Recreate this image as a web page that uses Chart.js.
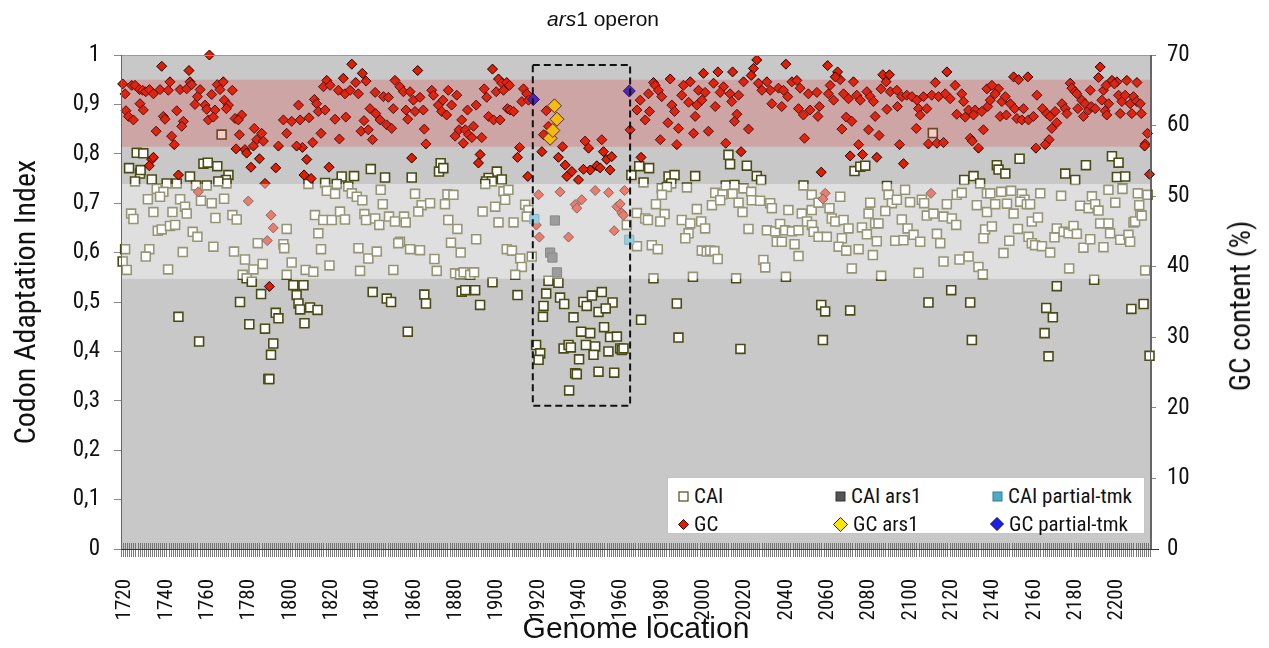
<!DOCTYPE html>
<html>
<head>
<meta charset="utf-8">
<script src="https://cdn.jsdelivr.net/npm/chart.js@4.4.1/dist/chart.umd.min.js"></script>
<style>
  html, body { margin: 0; padding: 0; background: #fff; }
  #wrap { position: relative; width: 1269px; height: 648px; }
  #title { position: absolute; left: 0; top: 7px; width: 1206px; text-align: center;
           font: 21px "Liberation Sans", Arial, sans-serif; color: #111; }
  #gcTitle { position: absolute; left: 1240px; top: 306px; transform: translate(-50%, -50%) rotate(-90deg);
             white-space: nowrap; font: 29px "Roboto Condensed", "Liberation Sans", sans-serif; color: #111; }
  #legend { position: absolute; left: 667px; top: 477px; width: 478px; height: 57px; background: #fff;
            border: 1px solid #c4c4c4; box-sizing: border-box;
            font: 21px "Roboto Condensed", "Liberation Sans", sans-serif; color: #111; }
  .item { position: absolute; height: 26px; line-height: 26px; white-space: nowrap; display: flex; align-items: center; }
  .item svg { margin-right: 5px; }
</style>
</head>
<body>
<div id="wrap">
  <canvas id="caiChart" width="1269" height="648"></canvas>
  <div id="title"><i>ars</i>1 operon</div>
  <div id="gcTitle">GC content (%)</div>
  <div id="legend">
    <div class="item" style="left:10px;top:5px"><svg width="11" height="11"><rect x="1" y="1" width="9" height="9" fill="#fff" stroke="#4b4b14" stroke-width="1.2"/></svg>CAI</div>
    <div class="item" style="left:167px;top:5px"><svg width="11" height="11"><rect x="1" y="1" width="9" height="9" fill="#555" stroke="#333" stroke-width="1"/></svg>CAI ars1</div>
    <div class="item" style="left:324px;top:5px"><svg width="11" height="11"><rect x="1" y="1" width="9" height="9" fill="#4bacc6" stroke="#2f7d93" stroke-width="1"/></svg>CAI partial-tmk</div>
    <div class="item" style="left:10px;top:33px"><svg width="11" height="11"><polygon points="5.5,0.5 10.5,5.5 5.5,10.5 0.5,5.5" fill="#e01e00" stroke="#300" stroke-width="1"/></svg>GC</div>
    <div class="item" style="left:165px;top:33px"><svg width="15" height="15"><polygon points="7.5,0.5 14.5,7.5 7.5,14.5 0.5,7.5" fill="#ffe600" stroke="#222" stroke-width="1"/></svg>GC ars1</div>
    <div class="item" style="left:322px;top:33px"><svg width="14" height="14"><polygon points="7,0.5 13.5,7 7,13.5 0.5,7" fill="#1f1fe0" stroke="#000090" stroke-width="1"/></svg>GC partial-tmk</div>
  </div>
</div>
<script>
// genome location axis
const xMin = 1718;
const xMax = 2216.5;
const xTicks = [1720, 1740, 1760, 1780, 1800, 1820, 1840, 1860, 1880, 1900, 1920, 1940, 1960,
                1980, 2000, 2020, 2040, 2060, 2080, 2100, 2120, 2140, 2160, 2180, 2200];
const caiTicks = [0, 0.1, 0.2, 0.3, 0.4, 0.5, 0.6, 0.7, 0.8, 0.9, 1];
const gcTicks = [0, 10, 20, 30, 40, 50, 60, 70];

// shaded ranges (CAI range, GC% range) and the ars1 box
const caiBand = [0.547, 0.739];
const gcBand = [57.0, 66.5];
const arsBox = { x0: 1917.3, x1: 1964.4, y0: 0.29, y1: 0.98 };

// [gene, CAI]
const caiPoints = [
  [1725.6,.802],[1728.8,.801],[1721.9,.771],[1727.2,.760],[1727.5,.767],[1724.8,.744],[1732.9,.748],[1740.1,.740],[1745,.740],[1751.4,.754],
  [1754.3,.736],[1759.5,.736],[1757.9,.780],[1760,.782],[1764.6,.775],[1770,.757],[1768.8,.747],[1769.1,.740],[1765.1,.744],[1735.3,.729],
  [1738.5,.723],[1736.9,.713],[1731,.708],[1746.6,.708],[1749,.693],[1749.8,.679],[1756.7,.705],[1761.9,.700],[1767.9,.709],[1722.9,.679],
  [1724,.668],[1733.7,.682],[1742.9,.682],[1763.7,.670],[1771.9,.676],[1774,.667],[1735.8,.644],[1737.7,.647],[1741.7,.654],[1744.2,.656],
  [1752.7,.642],[1755,.632],[1762.7,.612],[1772.7,.602],[1784.2,.619],[1778,.586],[1782.1,.566],[1786.6,.577],[1720,.607],[1718.8,.582],
  [1720.8,.565],[1731.7,.607],[1730,.592],[1747.9,.601],[1740.8,.566],[1776.9,.555],[1778.8,.548],[1781.3,.541],[1775.6,.500],[1785.8,.516],
  [1745.8,.470],[1780.1,.455],[1787.7,.446],[1792.9,.478],[1794.2,.467],[1791.7,.416],[1790.6,.393],[1755.8,.420],[1789.3,.344],[1789.8,.344],
  [1798.2,.648],[1796.6,.617],[1797,.609],[1798.2,.555],[1766.7,.839],
  [1838.9,.769],[1824.8,.754],[1830.8,.755],[1845.8,.752],[1858.7,.752],[1872.7,.781],[1871.9,.764],[1874,.771],[1808.7,.739],[1816.8,.741],
  [1822.4,.739],[1817.6,.725],[1821.6,.719],[1828,.734],[1829.7,.720],[1832.1,.713],[1834.8,.706],[1843.7,.727],[1844.7,.698],[1860.3,.719],
  [1863.5,.696],[1867.6,.700],[1861.9,.683],[1874.8,.698],[1876,.718],[1878.9,.717],[1811.9,.676],[1815.9,.666],[1820,.666],[1824,.683],
  [1826.4,.667],[1835.8,.678],[1836.6,.666],[1841,.669],[1843,.656],[1847.7,.673],[1850.6,.663],[1855,.673],[1855.8,.661],[1876.4,.666],
  [1880.8,.648],[1813.5,.639],[1814.8,.607],[1832.9,.609],[1837.7,.588],[1841.8,.602],[1853,.622],[1852.2,.619],[1857.9,.607],[1862.7,.605],
  [1869.7,.587],[1877.7,.620],[1882.4,.600],[1800.6,.580],[1818.9,.574],[1807.4,.565],[1811.1,.561],[1833.7,.563],[1849.8,.565],[1870.8,.563],
  [1879.7,.558],[1882.1,.556],[1801.4,.534],[1806.3,.534],[1803,.514],[1803.9,.497],[1804.7,.485],[1809.5,.489],[1813.1,.484],[1806.8,.457],
  [1839.8,.520],[1846.6,.507],[1848.7,.500],[1864.8,.515],[1865.6,.497],[1856.8,.440],[1882.9,.521],
  [1899.9,.764],[1895.9,.751],[1894.7,.744],[1897.5,.744],[1902.3,.748],[1894.3,.739],[1903.1,.724],[1905.5,.727],[1903.9,.707],[1893,.683],
  [1899.1,.693],[1913.6,.697],[1915.2,.686],[1914.4,.673],[1900.7,.661],[1908,.661],[1889.9,.627],[1904.7,.607],[1907.2,.604],[1911.2,.588],
  [1916.8,.592],[1912,.571],[1908.8,.555],[1883.8,.560],[1887,.555],[1888.9,.560],[1884.6,.524],[1889.4,.524],[1897.8,.540],[1891.8,.494],
  [1909.9,.514],
  [1924.9,.543],[1929.7,.539],[1923.8,.517],[1930.5,.509],[1932.5,.496],[1922.5,.492],[1922.2,.470],[1937,.469],[1941.8,.500],[1943.4,.492],
  [1945.9,.513],[1950.7,.520],[1955.9,.499],[1949.1,.480],[1952.6,.487],[1940.7,.440],[1945.1,.437],[1951.8,.449],[1954.7,.429],[1958,.430],
  [1918.9,.413],[1920.9,.396],[1920.1,.383],[1932.2,.406],[1934.6,.413],[1935.7,.408],[1939.7,.384],[1943,.413],[1947.5,.410],[1946.7,.393],
  [1953.9,.400],[1959.6,.406],[1960.4,.403],[1961.2,.406],[1937.8,.356],[1938.6,.354],[1949.1,.359],[1956.7,.357],[1934.9,.321],[1962.8,.656],
  [1965,.757],
  [2012,.798],[2012.8,.779],[2020.9,.776],[1968.8,.775],[1973.6,.771],[1983,.754],[1985.9,.757],[1995.9,.755],[2025.7,.755],[2027.8,.747],
  [1970.9,.742],[1984.3,.740],[1991.9,.732],[1979.7,.730],[1982.2,.733],[2010.7,.736],[2014.9,.737],[2005.6,.721],[2009.1,.718],[2014,.719],
  [2019.3,.730],[2023,.723],[2048.3,.736],[2052.3,.717],[1979.8,.717],[1976.9,.698],[1981.1,.678],[2004,.696],[2008,.706],[2016.9,.701],
  [2023.3,.706],[2027.3,.705],[2032.2,.700],[2033,.690],[1996.7,.688],[2018.8,.682],[2041,.686],[2047.5,.679],[2052.3,.686],[1967.7,.680],
  [1971.7,.669],[1973,.666],[1979,.663],[1989.4,.666],[1993.5,.659],[1998.8,.663],[2000.7,.649],[1992.7,.639],[1991.1,.629],[2021.7,.648],
  [2030.6,.645],[2034.6,.643],[2037,.658],[2039.4,.645],[2042.7,.643],[2045.9,.645],[2050,.663],[2035.4,.622],[2037.8,.622],[2044,.617],
  [2045.9,.593],[1967.7,.613],[1974.9,.615],[1977.8,.607],[1999.1,.604],[2001.5,.602],[2003.1,.604],[2005.2,.603],[2006.8,.587],[2028.9,.585],
  [2029.8,.570],[1975.7,.548],[1994.8,.551],[2015.7,.548],[2039.8,.551],[1987,.497],[1969.7,.464],[1987.8,.428],[2017.8,.405],
  [2073,.765],[2075.8,.774],[2078.2,.776],[2126.1,.747],[2130.6,.755],[2133.8,.740],[2088.7,.735],[2055.6,.701],[2066.1,.713],[2089.5,.717],
  [2091.1,.700],[2093.5,.707],[2097.5,.727],[2099.9,.702],[2105.6,.707],[2106.7,.700],[2122.5,.717],[2124.9,.721],[2137.1,.720],[2060.9,.690],
  [2080.6,.701],[2087.9,.684],[2117.7,.698],[2132.2,.696],[2137.1,.682],[2079.8,.679],[2095.9,.667],[2108,.675],[2111.2,.679],[2116.1,.673],
  [2120.1,.669],[2122.2,.656],[2062,.669],[2063.7,.663],[2067.7,.666],[2083,.659],[2084.6,.659],[2052.4,.656],[2053.2,.642],[2055.6,.632],
  [2059.6,.632],[2066.9,.629],[2070.1,.649],[2076.6,.651],[2079,.637],[2083.8,.623],[2092.7,.624],[2096.7,.625],[2098.7,.649],[2101.6,.636],
  [2104.8,.622],[2112.9,.638],[2114.5,.619],[2136.2,.647],[2135.4,.629],[2065.3,.612],[2069,.604],[2075,.607],[2081.9,.595],[2116.1,.582],
  [2123.8,.586],[2128.2,.592],[2133,.571],[2135.1,.556],[2071.7,.568],[2085.9,.553],[2104,.559],[2119.8,.524],[2108.8,.499],[2129,.499],
  [2056.9,.494],[2058.8,.481],[2070.9,.483],[2057.7,.423],[2129.8,.423],[2110.9,.842],
  [2152.9,.790],[2141.9,.777],[2142.7,.768],[2146,.760],[2185,.777],[2197.6,.795],[2200.8,.782],[2200,.753],[2204,.754],[2175,.760],
  [2179.8,.747],[2138.7,.720],[2144,.723],[2148.8,.725],[2154,.719],[2155.3,.707],[2162.9,.720],[2173,.715],[2187.9,.714],[2195.9,.727],
  [2202.7,.729],[2210.1,.720],[2214.8,.717],[2141.1,.698],[2146.8,.699],[2150,.679],[2153.2,.703],[2156.4,.698],[2158,.698],[2182.2,.695],
  [2186.3,.690],[2189.5,.698],[2191.1,.685],[2199.2,.701],[2210.8,.696],[2211.3,.676],[2139.5,.653],[2152.1,.648],[2158.8,.663],[2161.8,.671],
  [2157.2,.632],[2158.8,.619],[2160.4,.615],[2163.7,.613],[2167.7,.600],[2147.9,.624],[2145.1,.599],[2169.8,.631],[2170.9,.649],[2174.2,.642],
  [2176.6,.639],[2179,.654],[2180.6,.638],[2183.8,.610],[2187.1,.627],[2191.9,.659],[2195.9,.659],[2196.7,.639],[2193.5,.611],[2201.6,.626],
  [2205.6,.636],[2206.4,.622],[2208,.661],[2208.8,.663],[2212,.675],[2176.9,.568],[2213.7,.564],[2170.9,.532],[2189,.545],[2165.8,.488],
  [2169,.469],[2165,.437],[2166.9,.390],[2207,.486],[2212.9,.496],[2215.8,.391]
];

// [gene, GC %]
const gcPoints = [
  [1760.8,70.0],[1737.7,68.4],[1750.9,67.8],[1718.8,65.9],[1720,64.5],[1723.2,65.7],[1724.8,65.7],[1727,65.1],[1728.5,65.0],[1730,64.8],
  [1731.8,65.1],[1733.7,64.5],[1736.9,65.1],[1740.9,65.0],[1741.7,66.2],[1746.6,65.1],[1749.8,65.2],[1751.4,66.2],[1752.2,65.8],[1756.3,65.1],
  [1755,64.1],[1761.9,64.4],[1764.6,65.8],[1767.5,66.2],[1765.9,65.1],[1771.9,65.0],[1768,63.6],[1770,62.9],[1769,62.4],[1753.8,63.0],
  [1758.7,62.9],[1759.5,62.3],[1763.5,62.2],[1720.4,62.1],[1721.6,61.3],[1724,60.8],[1727.2,63.1],[1728.8,62.2],[1738.5,61.3],[1739.3,60.9],
  [1745,62.1],[1748.2,60.6],[1747.4,59.9],[1760.3,60.8],[1762.7,61.2],[1773.2,61.0],[1776.4,61.5],[1774.8,60.8],[1735,59.2],[1742.5,58.5],
  [1743.8,57.3],[1775.3,58.7],[1782.5,59.6],[1786.1,58.9],[1783.7,58.0],[1786.9,57.8],[1782.1,57.1],[1773.7,56.7],[1778,56.6],[1778.8,56.1],
  [1780.9,54.1],[1785,55.3],[1792.9,54.0],[1787.7,51.8],[1794.2,57.1],[1796.6,60.8],[1798.2,58.9],[1732.9,55.2],[1733.7,55.5],[1731.7,54.3],
  [1745.8,53.0],[1755.4,50.6],[1779.6,49.3],[1790.6,47.3],[1791.7,45.5],[1788.8,43.7],[1789.8,37.2],
  [1829.7,68.7],[1834.8,67.4],[1861.6,67.8],[1817.6,66.4],[1816,65.5],[1819.2,65.7],[1825.6,66.7],[1823.2,65.0],[1826.4,64.5],[1828.9,65.0],
  [1831.6,66.1],[1832.9,64.5],[1836.6,66.3],[1841,64.7],[1845,64.1],[1847.4,64.0],[1849.8,62.4],[1850.6,66.4],[1853,65.5],[1854.7,64.8],
  [1857.9,64.8],[1859.5,63.6],[1862.7,64.0],[1868.4,65.0],[1869.2,64.3],[1876.4,65.0],[1880.5,64.3],[1871.6,62.9],[1873.2,62.0],[1875.6,61.5],
  [1878,62.9],[1873.8,63.6],[1803.9,62.9],[1811.6,63.7],[1812.7,63.1],[1813.5,62.0],[1816.8,62.2],[1821.6,60.9],[1826.8,61.2],[1835.6,60.7],
  [1834.2,59.2],[1837.7,59.4],[1839.7,58.0],[1838.5,62.4],[1841.3,61.7],[1843.4,60.8],[1846.6,60.1],[1849,59.6],[1855.9,62.2],[1860.3,62.0],
  [1864.3,62.2],[1856.8,60.9],[1864.8,59.5],[1865.6,57.4],[1882.9,60.8],[1881.6,59.4],[1879.7,58.5],[1883.7,57.5],[1809,61.1],[1804.7,60.8],
  [1800.6,60.6],[1814.8,58.9],[1810.8,57.6],[1805.8,56.9],[1803,57.1],[1823.7,58.1],[1807.9,55.2],[1818.7,54.1],[1806.6,53.0],[1810,52.5],
  [1858.7,55.4],
  [1897.8,68.0],[1900.7,66.6],[1902.3,66.0],[1904.7,66.1],[1906,65.7],[1893.8,65.2],[1899.6,64.8],[1895,64.0],[1903.1,65.0],[1912.8,65.2],
  [1914.4,64.5],[1912,63.4],[1915.2,63.6],[1889.9,62.9],[1885.7,62.2],[1905,62.4],[1906.3,62.2],[1908,62.0],[1895.9,61.3],[1898.3,60.8],
  [1901.5,60.8],[1888.6,59.9],[1884.6,59.4],[1886.2,58.7],[1887.8,58.3],[1892.6,58.3],[1910.9,56.9],[1909.9,55.5],[1891.8,55.9],[1891,54.7],
  [1914.9,52.8],
  [1923.8,62.1],[1924.9,59.9],[1922.5,58.7],[1921.7,56.3],[1931.7,57.0],[1929.7,55.5],[1933,54.4],[1933.8,52.8],[1936.2,53.5],[1939.4,52.3],
  [1942.6,57.8],[1944.3,56.8],[1945.1,53.7],[1941.8,53.8],[1950.7,58.0],[1951.5,56.3],[1953.1,55.2],[1955.5,55.6],[1948.3,54.3],[1949.9,54.0],
  [1954.7,53.7],[1964.4,59.4],[1920.1,50.2],[1930.5,50.6],[1937.8,48.8],[1941,49.5],[1938.6,48.3],[1947.5,50.8],[1954,50.5],[1961.7,50.8],
  [1958,48.5],[1959.6,48.9],[1960.4,47.6],[1961.2,47.3],[1919,45.9],[1920.5,44.2],[1934.6,44.2],[1956.7,45.1],
  [2025.7,69.3],[2024.1,68.1],[2023,67.1],[2039.8,68.7],[1999.9,67.4],[2006.9,67.6],[2014,67.6],[1983.8,66.6],[1975.7,66.1],[1976.5,65.7],
  [1978.1,65.0],[1973.3,64.5],[1969.3,63.6],[1967.7,62.2],[1990.2,65.7],[1993.5,66.2],[1997.5,65.0],[2000.7,64.7],[2004.8,66.0],[2009.6,65.5],
  [2012.8,64.5],[2016.9,64.3],[2019.3,66.2],[2026.5,66.0],[2030.6,66.2],[2032.2,65.0],[2036.2,65.3],[2038.6,65.0],[2042.7,66.2],[2045.1,66.4],
  [2046.7,65.3],[2050.7,64.5],[1979.7,64.1],[1989.4,64.3],[1999.1,63.6],[2008,64.7],[2013.6,63.4],[2028.2,65.0],[2040.7,64.1],[1984.6,62.9],
  [1992.7,63.3],[1996.7,62.9],[2005.6,62.7],[2033,63.1],[2037.8,62.7],[2045.9,62.4],[2048.3,61.5],[2051.5,62.2],[1973.8,62.0],[1971.7,60.8],
  [1985.9,62.0],[1995.9,61.3],[2016.1,61.6],[1982.7,60.4],[1987.8,59.6],[1995.1,58.9],[2002.3,59.2],[2014.9,60.6],[2021.7,59.5],[1979,58.0],
  [1987,57.3],[2010.7,57.5],[2048.8,58.2],[1969.7,55.5],[2018.1,56.3],
  [2060,68.5],[2064.8,67.6],[2066.1,66.5],[2063.7,66.9],[2086.7,67.2],[2089.9,67.2],[2088.3,66.2],[2117.7,67.6],[2072.5,66.2],[2061.2,65.7],
  [2060.4,64.5],[2054.8,64.7],[2062.9,63.6],[2067.7,64.5],[2070.1,63.8],[2074.1,64.3],[2075.8,63.6],[2079,64.8],[2080.6,64.1],[2082.2,63.4],
  [2085.8,65.2],[2090.3,64.8],[2093.5,65.0],[2095.9,64.1],[2098.3,64.3],[2100.8,64.1],[2103.2,63.6],[2106.4,64.1],[2110.4,64.3],[2112.1,66.1],
  [2113.7,64.1],[2116.9,64.5],[2119.3,63.8],[2121.7,65.7],[2124.9,64.5],[2125.8,63.4],[2128.2,62.2],[2131.4,62.2],[2134.6,62.0],[2137.1,65.2],
  [2137.5,62.7],[2056,62.7],[2055.3,61.3],[2088.7,62.3],[2093.8,62.7],[2104,62.4],[2108,62.4],[2104.8,61.5],[2122.5,61.6],[2126.6,61.2],
  [2130.6,61.5],[2069,61.2],[2071.7,60.6],[2083,61.3],[2066.9,59.5],[2079.8,59.4],[2084.9,58.6],[2102.9,59.6],[2108.8,57.4],[2112.9,57.5],
  [2116.1,57.6],[2075,57.3],[2094.8,57.3],[2129,58.2],[2130,57.8],[2135.4,59.4],[2133,56.8],[2070.9,55.7],[2076.9,55.9],[2083.8,55.5],
  [2096.7,54.6],[2056.9,53.4],[2058.8,50.4],[2057.7,49.6],[2110,50.4],
  [2191.9,68.3],[2150,66.9],[2152.4,66.5],[2156.9,66.9],[2191.1,66.8],[2197.6,66.4],[2200,66.2],[2204.8,66.4],[2209.7,66.1],[2139.5,65.7],
  [2142.7,65.2],[2141.1,64.5],[2138.7,63.6],[2144.3,63.4],[2146,64.1],[2148.4,63.1],[2150.5,62.4],[2143.5,61.3],[2146.5,61.5],[2154.8,62.4],
  [2151.6,61.0],[2154,60.8],[2157.2,60.8],[2159.6,61.3],[2161.3,64.3],[2164,62.4],[2166.1,61.7],[2167.7,61.3],[2170.9,60.4],[2168.5,59.6],
  [2167.2,58.0],[2165.3,57.3],[2160.8,56.8],[2170.1,62.0],[2173.4,63.1],[2175,62.4],[2175.8,61.7],[2177.4,66.0],[2178.2,65.3],[2179.8,64.8],
  [2180.6,64.5],[2183,63.6],[2184.6,63.1],[2186.3,62.2],[2187.6,62.7],[2189.5,62.4],[2192.7,63.6],[2194.3,62.1],[2196,63.1],[2200.8,64.3],
  [2202.4,63.4],[2204,64.3],[2206.4,63.1],[2208,64.1],[2209.6,63.4],[2211.3,63.1],[2207.2,61.7],[2211.8,61.7],[2187.1,65.0],[2193.5,65.0],
  [2194.8,65.7],[2198.8,65.9],[2181.1,62.4],[2183.8,61.3],[2195.1,61.5],[2201.6,61.7],[2214.8,58.9],[2213.7,57.4],[2213.4,57.1],[2215.8,53.1]
];

const caiArs1 = [[1925.7,.600],[1926.8,.590],[1928,.665],[1929,.560]];
const gcArs1 = [[1925.7,58.2],[1927,59.3],[1927.8,62.8],[1929,60.9]];
const caiTmk = [[1918,.668],[1964,.626]];
const gcTmk = [[1917.6,63.7],[1964,64.9]];

const narrow = '"Roboto Condensed", "Liberation Sans", sans-serif';
const toXY = pts => pts.map(p => ({ x: p[0], y: p[1] }));

const overlayPlugin = {
  id: 'overlay',
  beforeDatasetsDraw(chart) {
    const { ctx, chartArea: a } = chart;
    ctx.save();
    ctx.fillStyle = '#c8c8c8';
    ctx.fillRect(a.left, a.top, a.width, a.height);
    ctx.restore();
  },
  afterDatasetsDraw(chart) {
    const { ctx, chartArea: a, scales } = chart;
    ctx.save();
    // light CAI band and red GC band lie over the points
    const c1 = scales.y.getPixelForValue(caiBand[1]);
    const c0 = scales.y.getPixelForValue(caiBand[0]);
    ctx.fillStyle = 'rgba(255,255,255,0.42)';
    ctx.fillRect(a.left, c1, a.width, c0 - c1);
    const g1 = scales.y2.getPixelForValue(gcBand[1]);
    const g0 = scales.y2.getPixelForValue(gcBand[0]);
    ctx.fillStyle = 'rgba(220,60,60,0.25)';
    ctx.fillRect(a.left, g1, a.width, g0 - g1);

    // frame
    ctx.lineWidth = 1;
    ctx.strokeStyle = '#9a9a9a';
    ctx.beginPath();
    ctx.moveTo(a.left, a.top + 0.5); ctx.lineTo(a.right, a.top + 0.5);
    ctx.stroke();
    ctx.strokeStyle = '#666';
    ctx.beginPath();
    ctx.moveTo(a.left + 0.5, a.top); ctx.lineTo(a.left + 0.5, a.bottom);
    ctx.moveTo(a.right - 0.5, a.top); ctx.lineTo(a.right - 0.5, a.bottom);
    ctx.stroke();

    // dashed box round the ars1 operon
    const bx0 = scales.x.getPixelForValue(arsBox.x0);
    const bx1 = scales.x.getPixelForValue(arsBox.x1);
    const by0 = scales.y.getPixelForValue(arsBox.y0);
    const by1 = scales.y.getPixelForValue(arsBox.y1);
    ctx.setLineDash([7, 4]);
    ctx.lineWidth = 2;
    ctx.strokeStyle = '#111';
    ctx.strokeRect(bx0, by1, bx1 - bx0, by0 - by1);
    ctx.restore();
  },
  afterDraw(chart) {
    // one minor tick per gene along the bottom axis
    const { ctx, chartArea: a, scales } = chart;
    ctx.save();
    ctx.strokeStyle = 'rgba(100,100,100,0.85)';
    ctx.lineWidth = 1;
    ctx.beginPath();
    for (let g = Math.ceil(xMin); g <= xMax; g++) {
      const px = Math.round(scales.x.getPixelForValue(g)) + 0.5;
      ctx.moveTo(px, a.bottom - 6);
      ctx.lineTo(px, a.bottom + 8);
    }
    ctx.stroke();
    ctx.strokeStyle = '#333';
    ctx.beginPath();
    ctx.moveTo(a.left, a.bottom + 0.5); ctx.lineTo(a.right + 8, a.bottom + 0.5);
    ctx.stroke();
    ctx.restore();
  }
};

const ctx = document.getElementById('caiChart').getContext('2d');
const caiChart = new Chart(ctx, {
  type: 'scatter',
  data: {
    datasets: [
      { label: 'GC partial-tmk', data: toXY(gcTmk), yAxisID: 'y2', order: 0, pointStyle: 'rectRot', pointRadius: 6,
        backgroundColor: '#1f1fe0', borderColor: '#000090', borderWidth: 1 },
      { label: 'GC ars1', data: toXY(gcArs1), yAxisID: 'y2', order: 0, pointStyle: 'rectRot', pointRadius: 7,
        backgroundColor: '#ffe600', borderColor: '#222', borderWidth: 1 },
      { label: 'CAI partial-tmk', data: toXY(caiTmk), yAxisID: 'y', order: 0, pointStyle: 'rect', pointRadius: 6.5,
        backgroundColor: '#4bacc6', borderColor: '#2f7d93', borderWidth: 1 },
      { label: 'CAI ars1', data: toXY(caiArs1), yAxisID: 'y', order: 0, pointStyle: 'rect', pointRadius: 6.5,
        backgroundColor: '#555', borderColor: '#333', borderWidth: 1 },
      { label: 'GC', data: toXY(gcPoints), yAxisID: 'y2', order: 1, pointStyle: 'rectRot', pointRadius: 5,
        backgroundColor: '#e01e00', borderColor: '#1a0000', borderWidth: 1 },
      { label: 'CAI', data: toXY(caiPoints), yAxisID: 'y', order: 2, pointStyle: 'rect', pointRadius: 6.3,
        backgroundColor: '#ffffff', borderColor: '#4b4b14', borderWidth: 1.6 }
    ]
  },
  options: {
    responsive: false,
    animation: false,
    clip: 8,
    layout: { padding: { top: 55, right: 0, bottom: 0, left: 0 } },
    plugins: { legend: { display: false }, tooltip: { enabled: false } },
    scales: {
      x: {
        type: 'linear', position: 'bottom', min: xMin, max: xMax,
        afterBuildTicks: s => { s.ticks = xTicks.map(v => ({ value: v })); },
        afterFit: s => { s.height = 99; },
        grid: { display: false },
        border: { display: false },
        ticks: { minRotation: 90, maxRotation: 90, autoSkip: false, padding: 22, color: '#111',
                 font: { family: narrow, size: 21 }, callback: v => String(v) },
        title: { display: true, text: 'Genome location', color: '#111', padding: { top: 0, bottom: 0 },
                 font: { family: '"Liberation Sans", Arial, sans-serif', size: 30 } }
      },
      y: {
        position: 'left', min: 0, max: 1,
        afterBuildTicks: s => { s.ticks = caiTicks.map(v => ({ value: v })); },
        afterFit: s => { s.width = 121; },
        grid: { drawOnChartArea: false, tickLength: 7, color: '#888' },
        border: { color: '#666' },
        ticks: { padding: 14, color: '#111', font: { family: narrow, size: 23 },
                 callback: v => (v === 0 || v === 1) ? String(v) : v.toFixed(1).replace('.', ',') },
        title: { display: true, text: 'Codon Adaptation Index', color: '#111', padding: { top: 9, bottom: 0 },
                 font: { family: narrow, size: 30 } }
      },
      y2: {
        position: 'right', min: 0, max: 70,
        afterBuildTicks: s => { s.ticks = gcTicks.map(v => ({ value: v })); },
        afterFit: s => { s.width = 118; },
        grid: { drawOnChartArea: false, tickLength: 5, color: '#888' },
        border: { color: '#666' },
        ticks: { padding: 11, color: '#111', font: { family: narrow, size: 23 } }
      }
    }
  },
  plugins: [overlayPlugin]
});
</script>
</body>
</html>
